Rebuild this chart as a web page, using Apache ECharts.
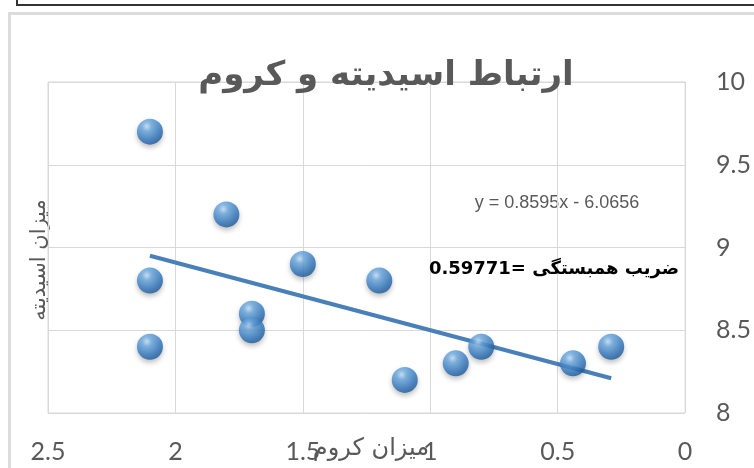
<!DOCTYPE html>
<html>
<head>
<meta charset="utf-8">
<script src="https://cdn.jsdelivr.net/npm/echarts@6/dist/echarts.min.js"></script>
<style>
  html, body { margin: 0; padding: 0; background: #fff; }
  #chart { width: 754px; height: 468px; }
</style>
</head>
<body>
<div id="chart"></div>
<script>
// chromium (x) vs acidity (y)
const chromium = [2.1, 1.8, 2.1, 1.5, 1.2, 1.7, 1.7, 2.1, 1.1, 0.9, 0.8, 0.44, 0.29];
const acidity  = [9.7, 9.2, 8.8, 8.9, 8.8, 8.6, 8.5, 8.4, 8.2, 8.3, 8.4, 8.3, 8.4];
// trendline end points as drawn in the picture
const trendX = [2.1, 0.29];
const trendY = [8.95, 8.21];
const xTicks = [0, 0.5, 1, 1.5, 2, 2.5];
const yTicks = [8, 8.5, 9, 9.5, 10];

const titleText = 'ارتباط اسیدیته و کروم';
const xName = 'میزان کروم';
const yName = 'میزان اسیدیته';
const equation = 'y = 0.8595x - 6.0656';
const corrText = '0.59771= ضریب همبستگی';

const chart = echarts.init(document.getElementById('chart'));

const ball = new echarts.graphic.RadialGradient(0.38, 0.3, 0.75, [
    {offset: 0, color: '#c4e2fb'},
    {offset: 0.25, color: '#6aa9e0'},
    {offset: 0.7, color: '#2f75bd'},
    {offset: 1, color: '#1b5491'}
]);

const labelFont = 'Lato, "Open Sans", sans-serif';
const grey = '#595959';

chart.setOption({
    animation: false,
    grid: {left: 48, top: 82, right: 64, bottom: 55, show: true, borderColor: '#d9d9d9', borderWidth: 1},
    title: {
        text: titleText,
        left: 381, top: 54, textAlign: 'center',
        textStyle: {fontFamily: '"DejaVu Sans", sans-serif', fontWeight: 'bold', fontSize: 34, color: grey}
    },
    xAxis: {
        type: 'value', inverse: true, min: 0, max: 2.5, interval: 0.5,
        axisLine: {show: false}, axisTick: {show: false},
        splitLine: {lineStyle: {color: '#d9d9d9'}},
        axisLabel: {
            margin: 26, fontFamily: labelFont, fontSize: 25, color: grey,
            formatter: v => xTicks.includes(v) ? String(v) : ''
        }
    },
    yAxis: {
        type: 'value', position: 'right', min: 8, max: 10, interval: 0.5,
        axisLine: {show: false}, axisTick: {show: false},
        splitLine: {lineStyle: {color: '#d9d9d9'}},
        axisLabel: {
            margin: 31, fontFamily: labelFont, fontSize: 25, color: grey,
            formatter: v => yTicks.includes(v) ? String(v) : ''
        }
    },
    series: [
        {
            type: 'line',
            data: trendX.map((x, i) => [x, trendY[i]]),
            symbol: 'none',
            lineStyle: {color: '#4a80ba', width: 4},
            z: 3
        },
        {
            type: 'scatter',
            data: chromium.map((x, i) => [x, acidity[i]]),
            symbolSize: 26,
            itemStyle: {
                color: ball,
                shadowBlur: 5, shadowColor: 'rgba(0,0,0,0.3)', shadowOffsetY: 3
            },
            z: 4
        }
    ],
    graphic: [
        // border of the element above
        {type: 'polyline', shape: {points: [[17, 0], [17, 5], [754, 5]]}, style: {stroke: '#333', lineWidth: 2, fill: null}, silent: true},
        // chart frame
        {type: 'rect', shape: {x: 8, y: 12, width: 760, height: 3}, style: {fill: '#dcdcdc'}, silent: true},
        {type: 'rect', shape: {x: 8, y: 12, width: 3, height: 470}, style: {fill: '#dcdcdc'}, silent: true},
        {
            type: 'text', x: 40, y: 260, rotation: Math.PI / 2,
            style: {text: yName, fontFamily: '"DejaVu Sans", sans-serif', fontSize: 21, fill: grey, align: 'center', verticalAlign: 'middle'}
        },
        {
            type: 'text', x: 371, y: 449,
            style: {text: xName, fontFamily: '"DejaVu Sans", sans-serif', fontSize: 24, fill: grey, align: 'center', verticalAlign: 'middle'}
        },
        {
            type: 'text', x: 557, y: 203,
            style: {text: equation, fontFamily: '"Liberation Sans", Arial, sans-serif', fontSize: 18, fill: grey, align: 'center', verticalAlign: 'middle'}
        },
        {
            type: 'text', x: 554, y: 269,
            style: {text: corrText, fontFamily: '"DejaVu Sans", sans-serif', fontWeight: 'bold', fontSize: 18, fill: '#000', align: 'center', verticalAlign: 'middle'},
            z: 10
        }
    ]
});
</script>
</body>
</html>
